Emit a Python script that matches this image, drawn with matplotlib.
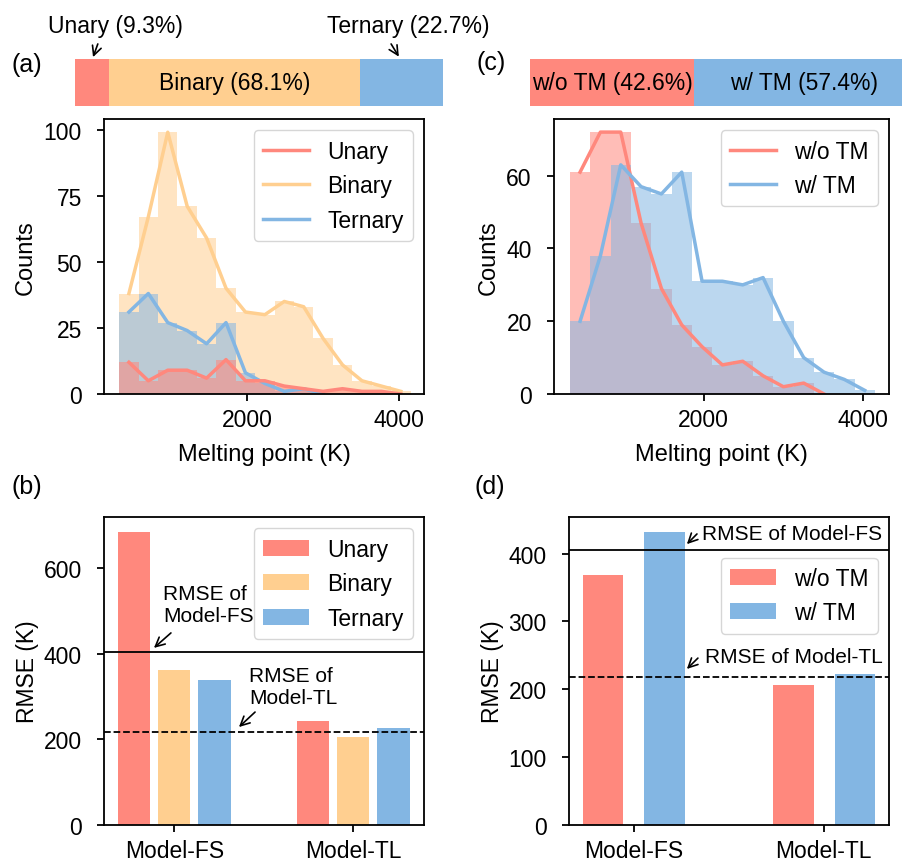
import numpy as np
import matplotlib
matplotlib.use("Agg")
import matplotlib.pyplot as plt

plt.rcParams['font.family'] = ['Liberation Sans', 'DejaVu Sans']
plt.rcParams['font.size'] = 16.5

# histogram bins (K)
bin_start = 318
bin_width = 255.5
n_bins = 15

# counts per bin, panel (a)
unary_counts = [12, 5, 9, 9, 6, 13, 5, 5, 3, 2, 1, 2, 1, 1, 0]
binary_counts = [38, 67, 99, 71, 59, 40, 31, 30, 35, 33, 21, 11, 5, 3, 1]
ternary_counts = [31, 38, 27, 24, 19, 27, 8, 4, 1, 2, 0]

# counts per bin, panel (c)
wo_tm_counts = [61, 72, 72, 47, 29, 19, 13, 8, 9, 5, 2, 3, 0]
w_tm_counts = [20, 38, 63, 57, 55, 61, 31, 31, 30, 32, 20, 10, 6, 4, 1]

# composition shares (%)
comp_labels = ['Unary', 'Binary', 'Ternary']
comp_share = [9.3, 68.1, 22.7]
tm_labels = ['w/o TM', 'w/ TM']
tm_share = [42.6, 57.4]

# RMSE bars (K)
models = ['Model-FS', 'Model-TL']
rmse_unary = [685, 242]
rmse_binary = [362, 205]
rmse_ternary = [338, 227]
rmse_wo_tm = [368, 206]
rmse_w_tm = [432, 223]
rmse_fs = 405
rmse_tl = 218

RED = '#FF887D'
ORANGE = '#FFCF90'
BLUE = '#83B6E3'

W, H = 903, 862


def box(l, t, r, b):
    return [l / W, 1 - b / H, (r - l) / W, (b - t) / H]


fig = plt.figure(figsize=(W / 100, H / 100), dpi=100)

arrow = dict(arrowstyle='->', color='k', lw=1.2, shrinkA=0, shrinkB=0)


def style(ax):
    for s in ax.spines.values():
        s.set_linewidth(1.3)
    ax.tick_params(width=1.3, length=5)
    ax.tick_params(axis='y', pad=11)
    ax.tick_params(axis='x', pad=5)


def hist(ax, series):
    edges = bin_start + bin_width * np.arange(n_bins + 1)
    centers = edges[:-1] + bin_width / 2
    for counts, color, label in series:
        n = len(counts)
        ax.bar(centers[:n], counts, width=bin_width, color=color, alpha=0.55,
               linewidth=0)
    for counts, color, label in series:
        n = len(counts)
        ax.plot(centers[:n], counts, color=color, lw=2.5, label=label)
    ax.set_xlim(118, 4328)
    ax.set_xticks([2000, 4000])
    ax.set_xlabel('Melting point (K)', fontsize=17, labelpad=9)
    ax.set_ylabel('Counts', fontsize=17, labelpad=5)
    style(ax)


def share_bar(ax, shares, colors):
    left = 0
    for s, c in zip(shares, colors):
        ax.barh(0, s / 100, left=left, height=1, color=c)
        left += s / 100
    ax.set_xlim(0, 1)
    ax.set_ylim(-0.5, 0.5)
    ax.axis('off')


# (a) composition bar
ax_ta = fig.add_axes(box(75, 60, 443, 107))
share_bar(ax_ta, comp_share, [RED, ORANGE, BLUE])
u = comp_share[0] / 100
bn = comp_share[1] / 100
ax_ta.text(u + bn / 2, 0, f'{comp_labels[1]} ({comp_share[1]}%)',
           ha='center', va='center')
ax_ta.text(0.111, 1.22, f'{comp_labels[0]} ({comp_share[0]}%)',
           ha='center', va='center', clip_on=False)
ax_ta.annotate('', xy=(0.049, 0.54), xytext=(0.062, 0.82),
               annotation_clip=False, arrowprops=arrow)
ax_ta.text(0.905, 1.22, f'{comp_labels[2]} ({comp_share[2]}%)',
           ha='center', va='center', clip_on=False)
ax_ta.annotate('', xy=(0.880, 0.55), xytext=(0.859, 0.82),
               annotation_clip=False, arrowprops=arrow)

# (c) TM bar
ax_tc = fig.add_axes(box(530, 60, 915, 107))
share_bar(ax_tc, tm_share, [RED, BLUE])
ax_tc.text(tm_share[0] / 200, 0, f'{tm_labels[0]} ({tm_share[0]}%)',
           ha='center', va='center')
ax_tc.text(tm_share[0] / 100 + tm_share[1] / 200, 0,
           f'{tm_labels[1]} ({tm_share[1]}%)', ha='center', va='center')

# (a) histogram
ax_a = fig.add_axes(box(104, 120, 424, 395))
hist(ax_a, [(binary_counts, ORANGE, 'Binary'),
            (ternary_counts, BLUE, 'Ternary'),
            (unary_counts, RED, 'Unary')])
ax_a.set_ylim(0, 104)
ax_a.set_yticks([0, 25, 50, 75, 100])
h, l = ax_a.get_legend_handles_labels()
ax_a.legend([h[2], h[0], h[1]], [l[2], l[0], l[1]], loc='upper right')

# (c) histogram
ax_c = fig.add_axes(box(554, 120, 889, 395))
hist(ax_c, [(wo_tm_counts, RED, 'w/o TM'), (w_tm_counts, BLUE, 'w/ TM')])
ax_c.set_ylim(0, 75.6)
ax_c.set_yticks([0, 20, 40, 60])
ax_c.legend(loc='upper right')

# (b) RMSE by composition
ax_b = fig.add_axes(box(104, 518, 424, 826))
x = np.arange(len(models))
ax_b.bar(x - 0.224, rmse_unary, 0.18, color=RED, label='Unary')
ax_b.bar(x, rmse_binary, 0.18, color=ORANGE, label='Binary')
ax_b.bar(x + 0.224, rmse_ternary, 0.18, color=BLUE, label='Ternary')
ax_b.axhline(rmse_fs, color='k', lw=1.3)
ax_b.axhline(rmse_tl, color='k', lw=1.3, ls='--')
ax_b.set_xlim(-0.393, 1.395)
ax_b.set_ylim(0, 720)
ax_b.set_xticks(x)
ax_b.set_xticklabels(models)
ax_b.set_yticks([0, 200, 400, 600])
ax_b.set_ylabel('RMSE (K)', labelpad=3)
ax_b.legend(loc='upper right')
ax_b.text(-0.063, 516, 'RMSE of\nModel-FS', ha='left', va='center', fontsize=15)
ax_b.annotate('', xy=(-0.114, 414), xytext=(-0.019, 449), arrowprops=arrow)
ax_b.text(0.417, 323, 'RMSE of\nModel-TL', ha='left', va='center', fontsize=15)
ax_b.annotate('', xy=(0.361, 229), xytext=(0.451, 264), arrowprops=arrow)
style(ax_b)

# (d) RMSE by TM
ax_d = fig.add_axes(box(569, 518, 889, 826))
ax_d.bar(x - 0.16, rmse_wo_tm, 0.212, color=RED, label='w/o TM')
ax_d.bar(x + 0.163, rmse_w_tm, 0.212, color=BLUE, label='w/ TM')
ax_d.axhline(rmse_fs, color='k', lw=1.3)
ax_d.axhline(rmse_tl, color='k', lw=1.3, ls='--')
ax_d.set_xlim(-0.34, 1.343)
ax_d.set_ylim(0, 454)
ax_d.set_xticks(x)
ax_d.set_xticklabels(models)
ax_d.set_yticks([0, 100, 200, 300, 400])
ax_d.set_ylabel('RMSE (K)', labelpad=3)
ax_d.legend(loc='upper right', bbox_to_anchor=(1, 0.905))
ax_d.text(0.36, 429, 'RMSE of Model-FS', ha='left', va='center', fontsize=15)
ax_d.annotate('', xy=(0.28, 414), xytext=(0.333, 429), arrowprops=arrow)
ax_d.text(0.375, 248, 'RMSE of Model-TL', ha='left', va='center', fontsize=15)
ax_d.annotate('', xy=(0.28, 230), xytext=(0.338, 246), arrowprops=arrow)
style(ax_d)

# panel letters
for txt, px, py in [('(a)', 12, 65), ('(c)', 476, 63), ('(b)', 12, 487), ('(d)', 475, 487)]:
    fig.text(px / W, 1 - py / H, txt, fontsize=18, ha='left', va='center')

fig.savefig('out.png', dpi=100)
